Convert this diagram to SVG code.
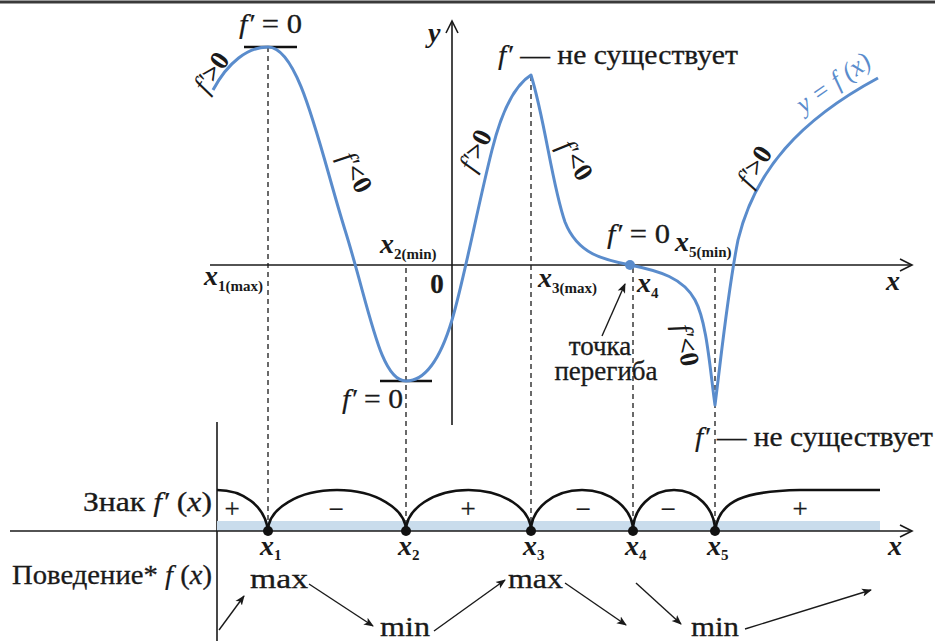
<svg xmlns="http://www.w3.org/2000/svg" width="935" height="641" viewBox="0 0 935 641">
<defs>
<marker id="ah" viewBox="0 0 10 10" refX="9" refY="5" markerWidth="10" markerHeight="10" markerUnits="userSpaceOnUse" orient="auto">
<path d="M0,1 L10,5 L0,9 L2.5,5 Z" fill="#1a1a1a"/>
</marker>
</defs>
<style>
.t{font-family:"Liberation Serif","Times New Roman",serif;font-size:27px;fill:#1a1a1a;stroke:#1a1a1a;stroke-width:0.3}
.fp{font-style:italic;stroke-width:0.15}
.mx{font-family:"Liberation Serif","Times New Roman",serif;font-style:italic;font-weight:bold;font-size:28px;fill:#1a1a1a}
.sb{font-style:normal;font-weight:bold;font-size:15px}
.rl{font-family:"Liberation Serif","Times New Roman",serif;font-size:27px;font-weight:bold;fill:#1a1a1a}
.ax{stroke:#1a1a1a;stroke-width:1.6;fill:none}
.dash{stroke:#1a1a1a;stroke-width:1.3;stroke-dasharray:5 4;fill:none}
.curve{stroke:#5a8ccc;stroke-width:3;fill:none;stroke-linejoin:round}
.arc{stroke:#111;stroke-width:2.6;fill:none}
.arr{stroke:#1a1a1a;stroke-width:1.4;fill:none;marker-end:url(#ah)}
</style>
<rect width="935" height="641" fill="#ffffff"/>
<line x1="0" y1="2" x2="935" y2="2" stroke="#3a3a3a" stroke-width="3"/>

<g id="axes">
<line class="ax" x1="210" y1="265" x2="911" y2="265"/>
<polyline class="ax" points="900,259 912,265 900,271"/>
<line class="ax" x1="452" y1="425" x2="452" y2="22"/>
<polyline class="ax" points="446,33 452,21 458,33"/>
<line class="ax" x1="217" y1="422" x2="217" y2="641"/>
<rect x="217" y="521" width="663" height="10" fill="#c9dcec"/>
<line class="ax" x1="10" y1="531" x2="911" y2="531"/>
<polyline class="ax" points="900,525 912,531 900,537"/>
</g>

<g id="guides">
<path class="dash" d="M268,47 V531 M406,268 V531 M531,76 V531 M633,268 V531 M715,268 V531"/>
<line x1="244" y1="47" x2="297" y2="47" stroke="#111" stroke-width="2.6"/>
<line x1="380" y1="381" x2="432" y2="381" stroke="#111" stroke-width="2.6"/>
</g>

<g id="graph">
<path class="curve" d="M213,90 C228,62 248,47 268,47 C300,47 320,150 345,230 C370,310 380,381 406,381 C425,381 440,360 452,320 C464,280 478,205 492,150 C502,110 515,85 531,75 C545,120 552,185 565,222 C578,255 605,260 630,265 C660,271 683,278 695,300 C707,322 710,370 715,405 C722,350 728,290 738,240 C755,170 800,120 878,78"/>
<circle cx="630" cy="265" r="5" fill="#5a8ccc"/>
</g>

<g id="graph-labels">
<text class="t" x="239" y="33" textLength="63" lengthAdjust="spacingAndGlyphs"><tspan class="fp">f′</tspan> = 0</text>
<text class="t" x="342" y="408" textLength="61" lengthAdjust="spacingAndGlyphs"><tspan class="fp">f′</tspan> = 0</text>
<text class="t" x="607" y="243" textLength="63" lengthAdjust="spacingAndGlyphs"><tspan class="fp">f′</tspan> = 0</text>
<text class="t" x="498" y="64" textLength="240" lengthAdjust="spacingAndGlyphs"><tspan class="fp">f′</tspan> — не существует</text>
<text class="t" x="695" y="446" textLength="238" lengthAdjust="spacingAndGlyphs"><tspan class="fp">f′</tspan> — не существует</text>
<text class="t" font-size="25" text-anchor="middle"><tspan x="600" y="355">точка</tspan><tspan x="606" y="380">перегиба</tspan></text>
<text class="t" x="437" y="293" text-anchor="middle" font-weight="bold">0</text>
<text class="mx" x="428" y="42">y</text>
<text class="mx" x="886" y="290">x</text>
<text class="mx" x="204" y="285">x<tspan class="sb" dy="6">1(max)</tspan></text>
<text class="mx" x="380" y="253">x<tspan class="sb" dy="6">2(min)</tspan></text>
<text class="mx" x="538" y="287">x<tspan class="sb" dy="6">3(max)</tspan></text>
<text class="mx" x="637" y="292">x<tspan class="sb" dy="6">4</tspan></text>
<text class="mx" x="675" y="251">x<tspan class="sb" dy="6">5(min)</tspan></text>
<g transform="translate(211,72) rotate(-56)"><text class="rl" text-anchor="middle" dy="0.35em"><tspan font-style="italic" font-weight="normal">f′</tspan>&gt;0</text></g>
<g transform="translate(356,172) rotate(62)"><text class="rl" text-anchor="middle" dy="0.35em"><tspan font-style="italic" font-weight="normal">f′</tspan>&lt;0</text></g>
<g transform="translate(475,150) rotate(-64)"><text class="rl" text-anchor="middle" dy="0.35em"><tspan font-style="italic" font-weight="normal">f′</tspan>&gt;0</text></g>
<g transform="translate(576,160) rotate(58)"><text class="rl" text-anchor="middle" dy="0.35em"><tspan font-style="italic" font-weight="normal">f′</tspan>&lt;0</text></g>
<g transform="translate(754,166) rotate(-58)"><text class="rl" text-anchor="middle" dy="0.35em"><tspan font-style="italic" font-weight="normal">f′</tspan>&gt;0</text></g>
<g transform="translate(687,345) rotate(78)"><text class="rl" text-anchor="middle" dy="0.35em"><tspan font-style="italic" font-weight="normal">f′</tspan>&lt;0</text></g>
<g transform="translate(833,82) rotate(-35)"><text text-anchor="middle" dy="0.35em" style="font-family:'Liberation Serif','Times New Roman',serif;font-style:italic;font-size:26px;fill:#5a8ccc">y = f (x)</text></g>
</g>

<g id="sign-row">
<path class="arc" d="M217,490 C242,490 265,505 268,531"/>
<path class="arc" d="M268,531 A69,41 0 0 1 406,531"/>
<path class="arc" d="M406,531 A62.5,41 0 0 1 531,531"/>
<path class="arc" d="M531,531 A51,41 0 0 1 633,531"/>
<path class="arc" d="M633,531 A41,41 0 0 1 715,531"/>
<path class="arc" d="M715,531 C719,500 745,491 800,490 L880,490"/>
<circle cx="268" cy="531" r="5" fill="#111"/>
<circle cx="406" cy="531" r="5" fill="#111"/>
<circle cx="531" cy="531" r="5" fill="#111"/>
<circle cx="633" cy="531" r="5" fill="#111"/>
<circle cx="715" cy="531" r="5" fill="#111"/>
<text class="t" x="83" y="511" textLength="129" lengthAdjust="spacingAndGlyphs">Знак <tspan class="fp">f′</tspan> (<tspan font-style="italic">x</tspan>)</text>
<text class="t" x="232" y="518" text-anchor="middle">+</text>
<text class="t" x="336" y="518" text-anchor="middle">−</text>
<text class="t" x="468" y="518" text-anchor="middle">+</text>
<text class="t" x="583" y="518" text-anchor="middle">−</text>
<text class="t" x="668" y="518" text-anchor="middle">−</text>
<text class="t" x="800" y="518" text-anchor="middle">+</text>
<text class="mx" x="260" y="555">x<tspan class="sb" dy="5">1</tspan></text>
<text class="mx" x="398" y="555">x<tspan class="sb" dy="5">2</tspan></text>
<text class="mx" x="523" y="555">x<tspan class="sb" dy="5">3</tspan></text>
<text class="mx" x="625" y="555">x<tspan class="sb" dy="5">4</tspan></text>
<text class="mx" x="707" y="555">x<tspan class="sb" dy="5">5</tspan></text>
<text class="mx" x="888" y="555">x</text>
</g>

<g id="behaviour-row">
<text class="t" x="12" y="584" textLength="200" lengthAdjust="spacingAndGlyphs">Поведение* <tspan class="fp">f</tspan> (<tspan font-style="italic">x</tspan>)</text>
<text class="t" x="250" y="588" font-size="26" textLength="58" lengthAdjust="spacingAndGlyphs">max</text>
<text class="t" x="380" y="636" font-size="26" textLength="50" lengthAdjust="spacingAndGlyphs">min</text>
<text class="t" x="508" y="588" font-size="26" textLength="55" lengthAdjust="spacingAndGlyphs">max</text>
<text class="t" x="691" y="636" font-size="26" textLength="48" lengthAdjust="spacingAndGlyphs">min</text>
</g>

<g id="connectors">
<line class="arr" x1="219" y1="630" x2="244" y2="596"/>
<line class="arr" x1="309" y1="584" x2="373" y2="626"/>
<line class="arr" x1="434" y1="631" x2="505" y2="580"/>
<line class="arr" x1="565" y1="583" x2="626" y2="625"/>
<line class="arr" x1="636" y1="583" x2="681" y2="624"/>
<line class="arr" x1="745" y1="629" x2="871" y2="590"/>
<line class="arr" x1="602" y1="336" x2="625" y2="284"/>
</g>
</svg>
